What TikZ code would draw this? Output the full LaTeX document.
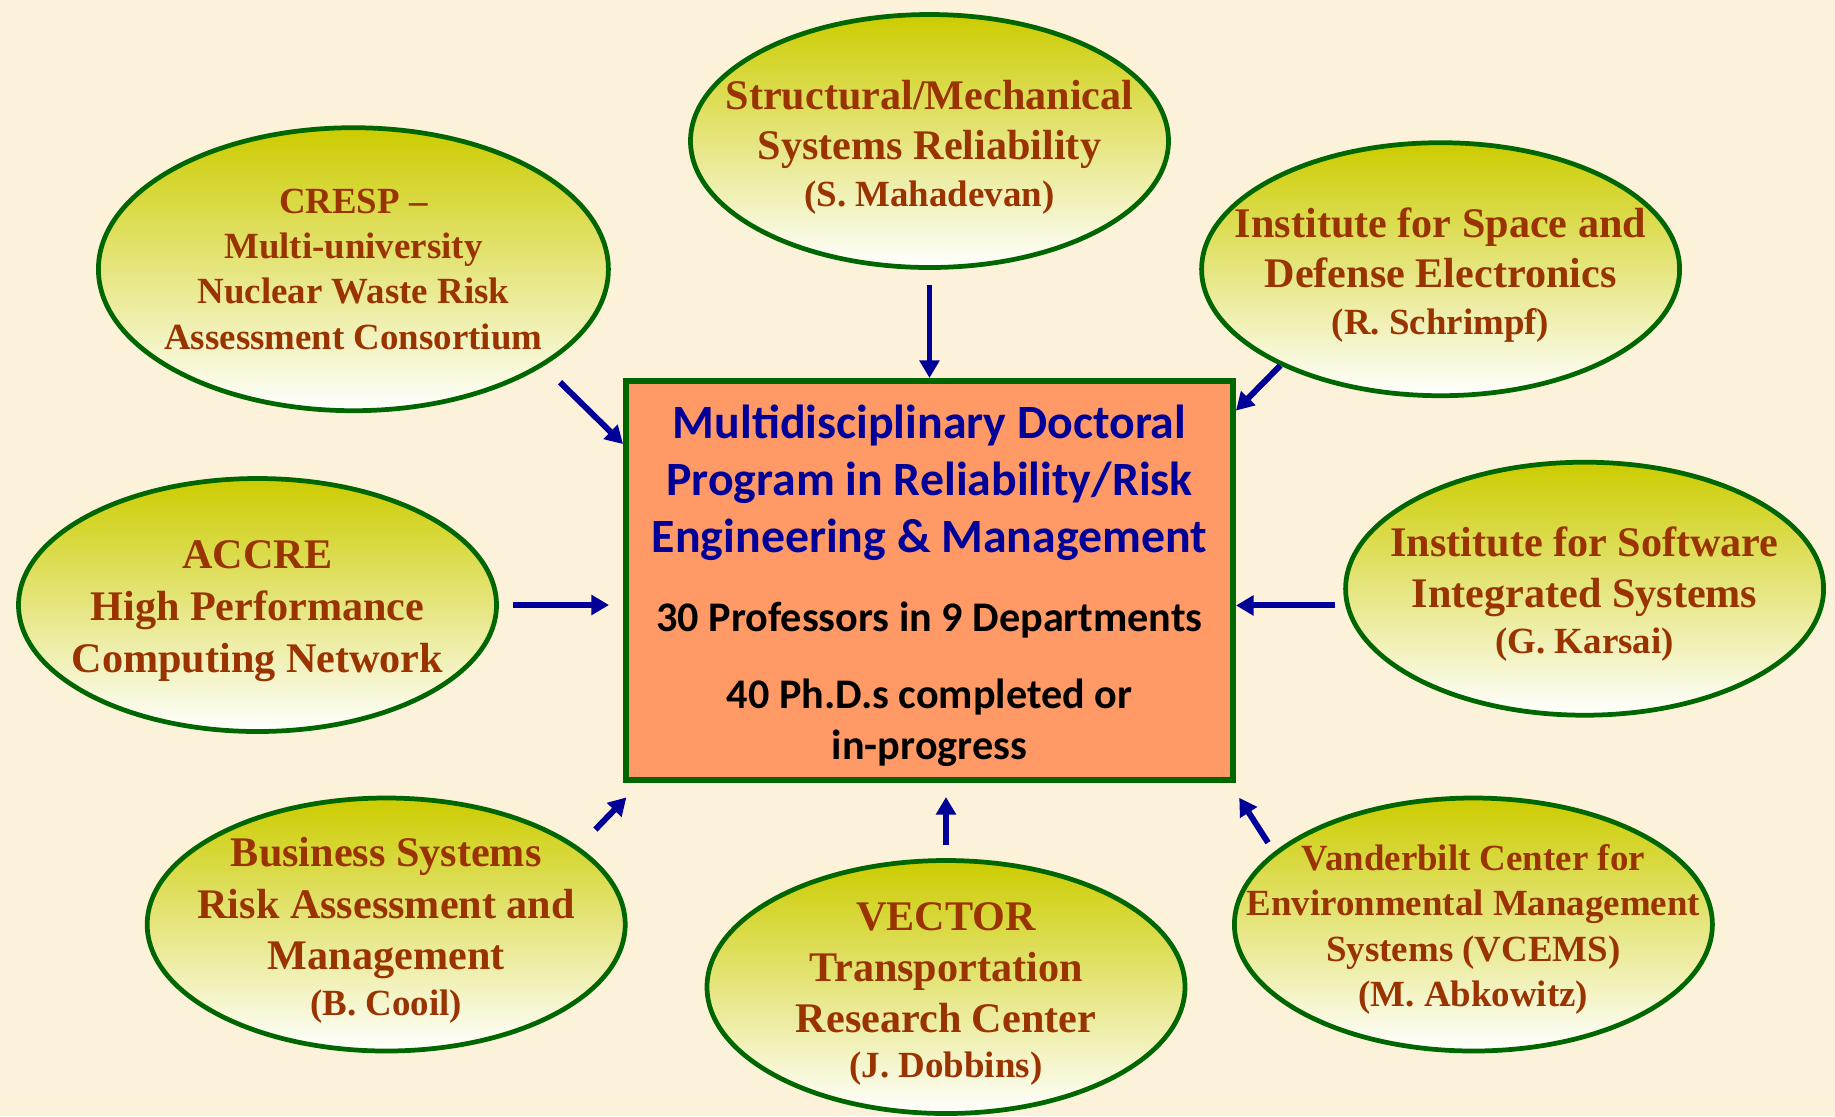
\documentclass[tikz,border=0pt]{standalone}
\usepackage{fontspec}
\setmainfont{Liberation Serif}
\newfontfamily\calibri{Carlito}
\usetikzlibrary{shapes.geometric,arrows.meta}

\definecolor{paper}{RGB}{252,242,218}
\definecolor{unitgreen}{RGB}{0,102,0}
\definecolor{unitbrown}{RGB}{153,51,0}
\definecolor{unitolive}{RGB}{204,204,0}
\definecolor{progfill}{RGB}{255,153,102}
\definecolor{progblue}{RGB}{0,0,153}

\newcommand{\who}[1]{{\fontsize{10.5}{12.6}\selectfont #1}}
\newcommand{\headline}[1]{{\color{progblue}\fontsize{13.6}{16.2}\selectfont #1}}
\newcommand{\lift}[1][0.975em]{\rule{0pt}{#1}}

\begin{document}
\begin{tikzpicture}[
    unit/.style={ellipse, draw=unitgreen, line width=1.35pt, top color=unitolive, bottom color=white,
      text=unitbrown, align=center, minimum width=4.78cm, minimum height=2.53cm,
      inner xsep=-1cm, inner ysep=-0.5cm, font=\bfseries\fontsize{12}{14.4}\selectfont},
    prog/.style={rectangle, draw=unitgreen, line width=1.7pt, fill=progfill, align=center,
      minimum width=6.07cm, minimum height=3.99cm, font=\calibri\bfseries\fontsize{12}{14.3}\selectfont},
    feed/.style={draw=progblue, line width=1.7pt, -{Triangle[length=5pt,width=5.5pt]}}]
    \useasboundingbox (0,0) rectangle (18.35,-11.16);
    \fill[paper] (0,0) rectangle (18.35,-11.16);

    % Doctoral programme in the middle
    \node[prog] (prog) at (9.295,-5.805) {\lift[12.4pt]\headline{Multidisciplinary Doctoral}\\[1.9pt]
      \headline{Program in Reliability/Risk}\\[1.9pt]
      \headline{Engineering \& Management}\\[8.3pt]
      30 Professors in 9 Departments\\[7.7pt]
      40 Ph.D.s completed or\\
      in-progress};

    % Upper centres
    \node[unit] (smr) at (9.295,-1.41) {\lift Structural/Mechanical\\ Systems Reliability\\[-1.2pt] \who{(S. Mahadevan)}};
    \node[unit, minimum width=5.10cm, minimum height=2.83cm, font=\bfseries\fontsize{10.5}{12.9}\selectfont]
      (cresp) at (3.534,-2.692) {CRESP –\\ Multi-university\\ Nuclear Waste Risk\\ Assessment Consortium};
    \node[unit] (isde) at (14.406,-2.692) {\lift Institute for Space and\\ Defense Electronics\\[-1.2pt] \who{(R. Schrimpf)}};

    % Side centres
    \node[unit, font=\bfseries\fontsize{12}{14.8}\selectfont] (accre) at (2.575,-6.05) {\lift ACCRE\\ High Performance\\ Computing Network};
    \node[unit] (isis) at (15.846,-5.887) {\lift Institute for Software\\ Integrated Systems\\[-1.2pt] \who{(G. Karsai)}};

    % Lower centres
    \node[unit, font=\bfseries\fontsize{12}{14.6}\selectfont] (bsram) at (3.862,-9.245) {\lift Business Systems\\ Risk Assessment and\\ Management\\[-1.6pt] \who{(B. Cooil)}};
    \node[unit, font=\bfseries\fontsize{12}{14.6}\selectfont] (vector) at (9.46,-9.87) {\lift VECTOR\\ Transportation\\ Research Center\\[-2pt] \who{(J. Dobbins)}};
    \node[unit, font=\bfseries\fontsize{10.5}{12.9}\selectfont] (vcems) at (14.734,-9.245) {\lift Vanderbilt Center for\\ Environmental Management\\ Systems (VCEMS)\\ (M. Abkowitz)};

    % Arrows into the programme
    \draw[feed, shorten <=0.15cm] (smr.south) -- (prog.north);
    \draw[feed, shorten <=0.23cm] (cresp.-27) -- (prog.156);
    \draw[feed] (isde.211) -- (prog.29);
    \draw[feed, shorten <=0.14cm, shorten >=0.14cm] (accre.east) -- (prog.west |- accre.east);
    \draw[feed, shorten <=0.1cm] (isis.184) -- (prog.east |- isis.184);
    \draw[feed, shorten <=0.24cm, shorten >=0.2cm] (bsram.22) -- (prog.215);
    \draw[feed, shorten <=0.13cm, shorten >=0.14cm] (vector.north) -- (prog.south -| vector.north);
    \draw[feed, shorten <=0.11cm, shorten >=0.175cm] (vcems.160) -- (prog.-34.5);
\end{tikzpicture}
\end{document}
